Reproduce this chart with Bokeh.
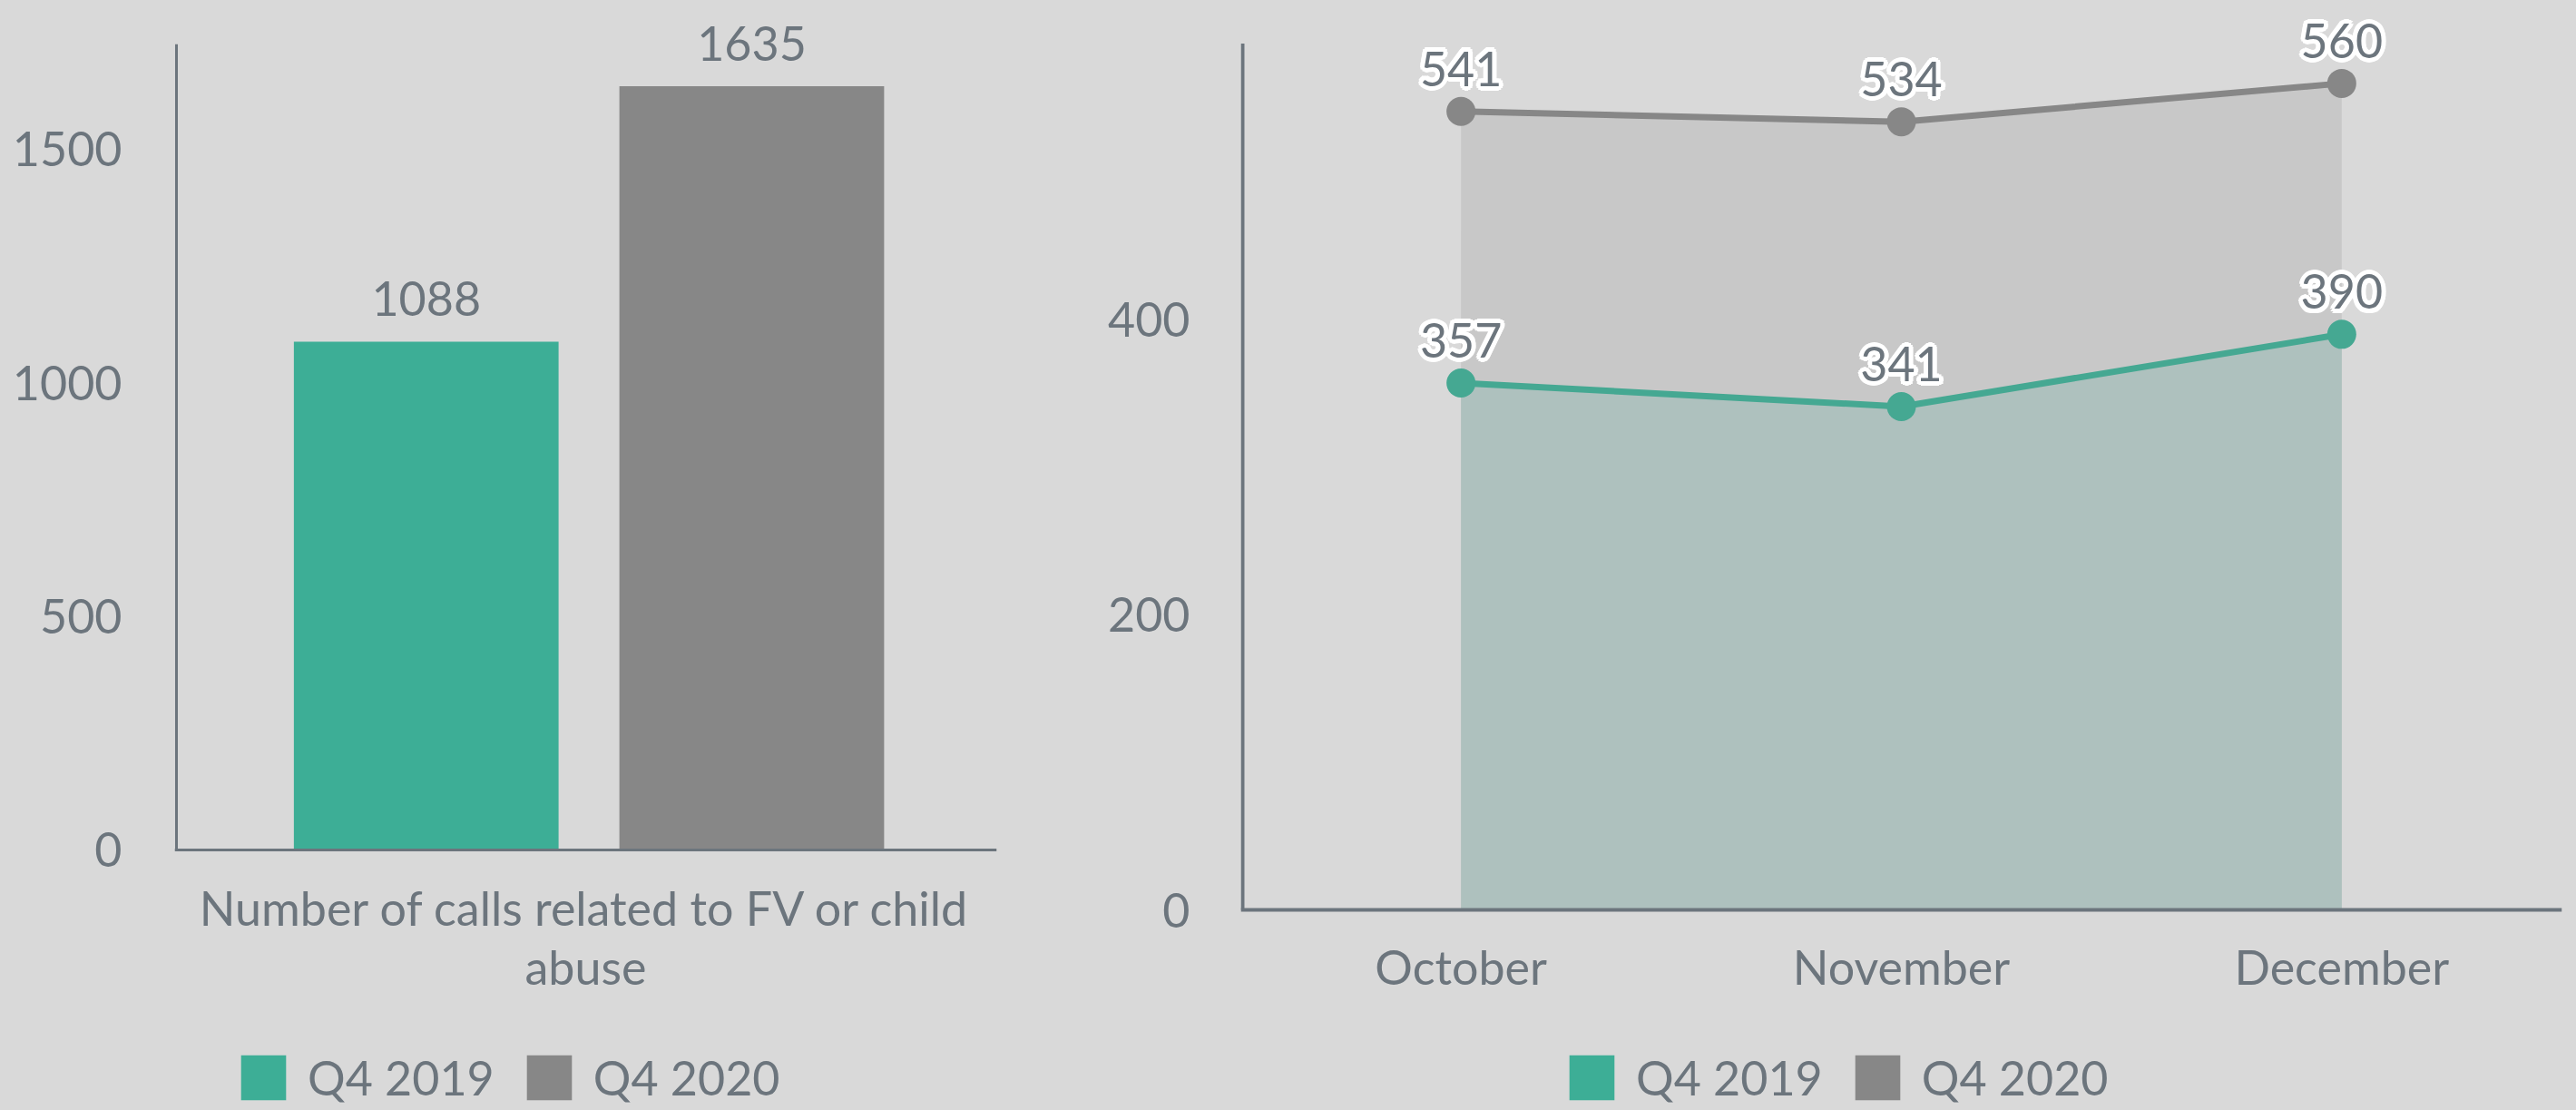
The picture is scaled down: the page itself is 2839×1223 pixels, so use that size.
import math
from bokeh.plotting import figure
from bokeh.models import (FactorRange, Range1d, FixedTicker, Legend, LegendItem,
                          ColumnDataSource, LabelSet)
from bokeh.transform import dodge
from bokeh.layouts import row
from bokeh.core.properties import value
from bokeh.embed import file_html
from bokeh.resources import INLINE

# ---------------- data ----------------
call_category = ["Number of calls related to FV or child abuse"]
call_category_wrapped = ["Number of calls related to FV or child\nabuse"]
calls_q4_2019 = [1088]
calls_q4_2020 = [1635]

months = ["October", "November", "December"]
monthly_q4_2019 = [357, 341, 390]
monthly_q4_2020 = [541, 534, 560]

series_names = ["Q4 2019", "Q4 2020"]
left_ticks = [0, 500, 1000, 1500]
right_ticks = [0, 200, 400]
left_axis_top = 1725
right_axis_top = 587

# ---------------- style ----------------
BG = "#d9d9d9"
TEAL = "#3dae96"
TEAL_LINE = "#45a892"
GRAY = "#878787"
TXT = "#6c757d"
AREA_GRAY = "#c8c8c8"
AREA_TEAL = "#aec1be"
FONT = "Lato"
FS = "52px"


def style_axes(p):
    ax = p.yaxis
    ax.axis_line_color = None
    ax.major_tick_line_color = None
    ax.minor_tick_line_color = None
    ax.major_tick_in = 0
    ax.major_tick_out = 0
    ax.minor_tick_in = 0
    ax.minor_tick_out = 0
    ax.major_label_text_font = FONT
    ax.major_label_text_font_size = FS
    ax.major_label_text_color = TXT
    p.xaxis.visible = False
    p.xgrid.grid_line_color = None
    p.ygrid.grid_line_color = None


def legend_for(p, r19, r20, vx):
    leg = Legend(items=[LegendItem(label=series_names[0], renderers=[r19]),
                        LegendItem(label=series_names[1], renderers=[r20])],
                 orientation="horizontal", location=(vx, 5),
                 label_text_font=FONT, label_text_font_size=FS,
                 label_text_color=TXT, glyph_width=62, glyph_height=62,
                 label_standoff=18, spacing=29, padding=0, margin=0,
                 background_fill_alpha=0, border_line_color=None)
    p.add_layout(leg)


def labels_with_halo(p, src, x, y, text, halo):
    if halo:
        for k in range(12):
            a = 2 * math.pi * k / 12
            p.add_layout(LabelSet(x=x, y=y, text=text, source=src,
                                  x_offset=5 * math.cos(a), y_offset=28 + 5 * math.sin(a),
                                  text_font=value(FONT), text_font_size=value(FS),
                                  text_color="white",
                                  text_align="center", text_baseline="alphabetic"))
    p.add_layout(LabelSet(x=x, y=y, text=text, source=src, x_offset=0, y_offset=28,
                          text_font=value(FONT), text_font_size=value(FS), text_color=TXT,
                          text_align="center", text_baseline="alphabetic"))


def category_labels(p, src, field, y_off):
    p.text(x=field, y=0, text=field, source=src, y_offset=y_off,
           text_font=value(FONT), text_font_size=value(FS), text_color=TXT,
           text_align="center", text_baseline="top", text_line_height=1.04)


# ---------------- left chart: bars ----------------
# frame: x 192..1098 (906 px), y 0..1223 ; value 0 at y=936, 0.5147 px per call
p1 = figure(width=1200, height=1223,
            x_range=FactorRange(factors=call_category_wrapped, range_padding=0),
            y_range=Range1d(-557.6, 1818.5),
            output_backend="svg", toolbar_location=None,
            min_border_left=192, min_border_right=102,
            min_border_top=0, min_border_bottom=0,
            background_fill_color=BG, border_fill_color=BG, outline_line_color=None)

src1 = ColumnDataSource(dict(cat=call_category_wrapped, y19=calls_q4_2019, y20=calls_q4_2020,
                             l19=[str(v) for v in calls_q4_2019],
                             l20=[str(v) for v in calls_q4_2020]))
x19 = dodge("cat", -0.194, range=p1.x_range)
x20 = dodge("cat", 0.202, range=p1.x_range)
b19 = p1.vbar(x=x19, top="y19", width=0.322, source=src1, fill_color=TEAL, line_color=None)
b20 = p1.vbar(x=x20, top="y20", width=0.322, source=src1, fill_color=GRAY, line_color=None)
# axis lines
p1.segment(x0=[0.0022], y0=[0], x1=[0.0022], y1=[left_axis_top], line_color=TXT, line_width=3)
p1.segment(x0=[0.0], y0=[0], x1=[1.0], y1=[0], line_color=TXT, line_width=3)
labels_with_halo(p1, src1, x19, "y19", "l19", False)
labels_with_halo(p1, src1, x20, "y20", "l20", False)
category_labels(p1, src1, "cat", 33)

style_axes(p1)
p1.yaxis.ticker = FixedTicker(ticks=left_ticks)
p1.yaxis.major_label_standoff = 58
legend_for(p1, b19, b20, 67)

# ---------------- right chart: areas/lines ----------------
# frame: x 1367..2823 (1456 px), y 0..1223 ; value 0 at y=1002, 1.626 px per call
p2 = figure(width=1639, height=1223,
            x_range=FactorRange(factors=months, range_padding=0),
            y_range=Range1d(-135.9, 616.2),
            output_backend="svg", toolbar_location=None,
            min_border_left=167, min_border_right=16,
            min_border_top=0, min_border_bottom=0,
            background_fill_color=BG, border_fill_color=BG, outline_line_color=None)

src2 = ColumnDataSource(dict(month=months, y19=monthly_q4_2019, y20=monthly_q4_2020,
                             l19=[str(v) for v in monthly_q4_2019],
                             l20=[str(v) for v in monthly_q4_2020]))
p2.varea(x="month", y1=0, y2="y20", source=src2, fill_color=AREA_GRAY)
p2.varea(x="month", y1=0, y2="y19", source=src2, fill_color=AREA_TEAL)
p2.segment(x0=[0.0041], y0=[0], x1=[0.0041], y1=[right_axis_top], line_color=TXT, line_width=4)
p2.segment(x0=[0.0], y0=[0], x1=[3.0], y1=[0], line_color=TXT, line_width=4)
p2.line(x="month", y="y20", source=src2, line_color=GRAY, line_width=7)
p2.scatter(x="month", y="y20", source=src2, size=32, fill_color=GRAY, line_color=None)
p2.line(x="month", y="y19", source=src2, line_color=TEAL_LINE, line_width=7)
p2.scatter(x="month", y="y19", source=src2, size=32, fill_color=TEAL_LINE, line_color=None)
labels_with_halo(p2, src2, "month", "y20", "l20", True)
labels_with_halo(p2, src2, "month", "y19", "l19", True)
category_labels(p2, src2, "month", 31)

# zero-height swatch renderers used only for the square legend keys
d19 = p2.vbar(x="month", bottom=0, top=0, width=0.5, source=src2, fill_color=TEAL, line_color=None)
d20 = p2.vbar(x="month", bottom=0, top=0, width=0.5, source=src2, fill_color=GRAY, line_color=None)

style_axes(p2)
p2.yaxis.ticker = FixedTicker(ticks=right_ticks)
p2.yaxis.major_label_standoff = 56
legend_for(p2, d19, d20, 356)

layout = row(p1, p2, spacing=0)
html = file_html(layout, INLINE)
html = html.replace("</head>", "<style>body{background:#d9d9d9;}</style></head>", 1)
open("out.html", "w").write(html)
